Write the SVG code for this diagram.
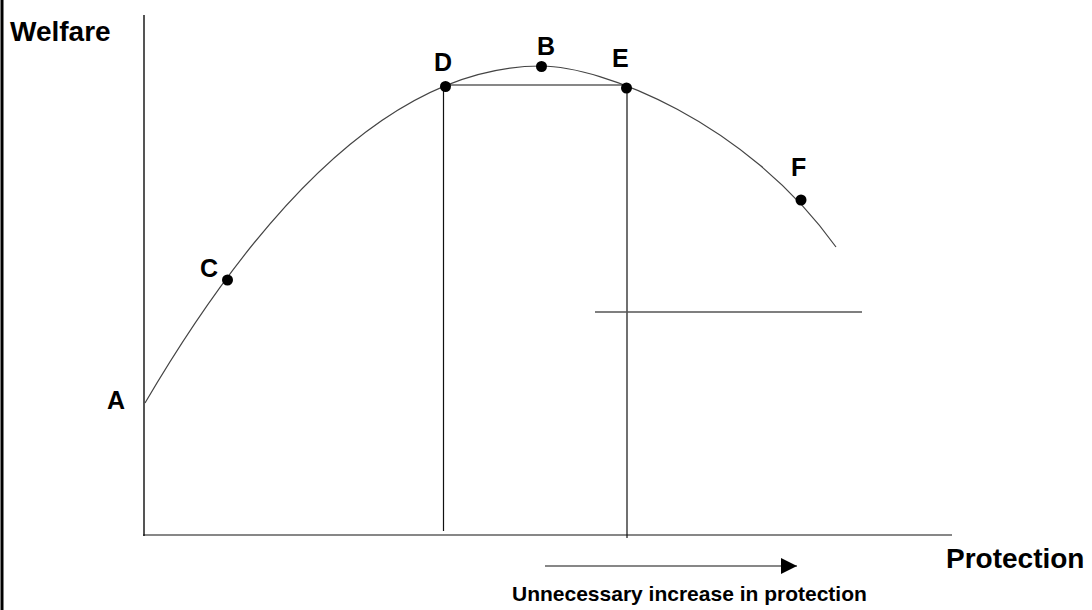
<svg xmlns="http://www.w3.org/2000/svg" width="1092" height="610" viewBox="0 0 1092 610">
<style>
text { font-family: "Liberation Sans", Arial, sans-serif; font-weight: bold; fill: #000; }
.big { font-size: 28px; }
.lbl { font-size: 25px; }
.note { font-size: 21px; }
.thin { stroke: #111; stroke-width: 1.2; fill: none; }
.axis { stroke: #555; stroke-width: 2; fill: none; }
.curve { stroke: #444; stroke-width: 1.2; fill: none; }
.dot { fill: #000; }
</style>
<defs>
<marker id="arr" markerWidth="16" markerHeight="16" refX="16" refY="8" orient="auto" markerUnits="userSpaceOnUse" viewBox="0 0 16 16">
<path d="M0,0 L16,8 L0,16 Z" fill="#000"/>
</marker>
</defs>
<rect width="1092" height="610" fill="#fff"/>
<line x1="2" y1="0" x2="2" y2="610" stroke="#000" stroke-width="3"/>
<g id="connectors">
<line class="axis" x1="144" y1="15" x2="144" y2="536"/>
<line class="thin" x1="143" y1="535" x2="952" y2="535"/>
<path class="curve" d="M145,403 Q343,66 541,66 C601,66 746,121 836,247"/>
<line class="thin" x1="445" y1="85" x2="627" y2="85"/>
<line class="thin" x1="443.5" y1="87" x2="443.5" y2="531"/>
<line class="thin" x1="627" y1="88" x2="627" y2="538"/>
<line x1="595" y1="312" x2="862" y2="312" stroke="#555" stroke-width="1.3"/>
<line x1="545" y1="566" x2="797" y2="566" stroke="#111" stroke-width="1.2" marker-end="url(#arr)"/>
</g>
<g id="axis-labels">
<text class="big" x="10" y="41">Welfare</text>
<text class="big" x="946" y="568">Protection</text>
<text class="note" x="512" y="601">Unnecessary increase in protection</text>
</g>
<g id="node-A"><text class="lbl" x="107" y="409">A</text></g>
<g id="node-C"><circle class="dot" cx="227.5" cy="280" r="5.5"/><text class="lbl" x="200" y="277">C</text></g>
<g id="node-D"><circle class="dot" cx="445.5" cy="86.5" r="5.5"/><text class="lbl" x="434" y="71">D</text></g>
<g id="node-B"><circle class="dot" cx="541.5" cy="66.5" r="5.5"/><text class="lbl" x="537" y="55">B</text></g>
<g id="node-E"><circle class="dot" cx="626.5" cy="88" r="5.5"/><text class="lbl" x="612" y="67">E</text></g>
<g id="node-F"><circle class="dot" cx="801" cy="200" r="5.5"/><text class="lbl" x="791" y="176">F</text></g>
</svg>
